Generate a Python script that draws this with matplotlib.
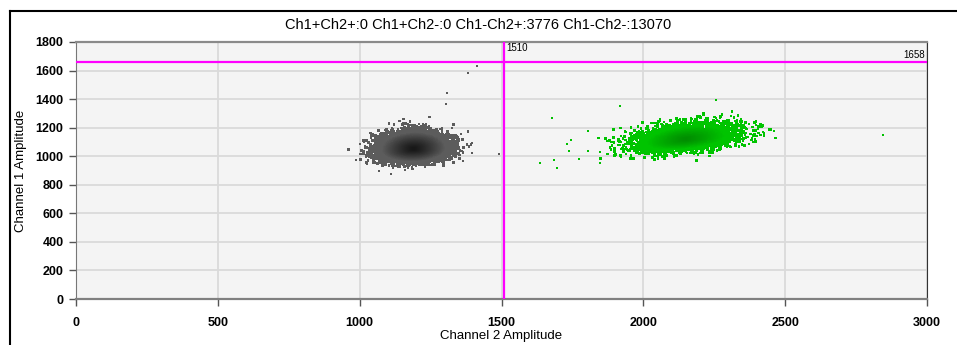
import numpy as np
import matplotlib.pyplot as plt
from matplotlib.lines import Line2D
from matplotlib.colors import to_rgb

plt.rcParams['font.family'] = ['Liberation Sans', 'DejaVu Sans']

# Droplet counts per quadrant (from the analysis summary)
quadrants = ['Ch1+Ch2+', 'Ch1+Ch2-', 'Ch1-Ch2+', 'Ch1-Ch2-']
counts = [0, 0, 3776, 13070]

# Thresholds
thr_ch2 = 1510
thr_ch1 = 1658

# Cluster shape estimates: centre (ch2, ch1), spread (ch2, ch1 below, ch1 above),
# slope of ch1 along ch2
neg_center = [1190, 1052]
neg_sd = [54, 40, 54]
neg_slope = 0.06
pos_center = [2150, 1120]
pos_sd = [90, 40, 54]
pos_slope = 0.2

# Stray droplets outside the main clouds
neg_out_ch2 = [1415, 1381, 1307, 1304, 1491, 1397, 1397, 1110, 987, 1365, 1068]
neg_out_ch1 = [1632, 1585, 1440, 1363, 1013, 1095, 1025, 877, 973, 968, 896]
pos_out_ch2 = [1677, 1918, 2256, 2846, 1636, 1686, 1697, 1730, 1737, 1773, 1806, 1805, 1849, 1849]
pos_out_ch1 = [1265, 1351, 1393, 1148, 950, 973, 915, 1085, 1038, 978, 1174, 1038, 950, 1030]

rng = np.random.default_rng(7)


def cloud(n, center, sd, slope):
    z = rng.standard_normal((n, 2))
    x = center[0] + sd[0] * z[:, 0]
    dy = np.where(z[:, 1] > 0, sd[2], sd[1]) * z[:, 1]
    y = center[1] + dy + slope * (x - center[0])
    r = np.hypot(z[:, 0], z[:, 1])
    return x, y, r


def shade(r, dark, light, r_max):
    t = np.clip(r / r_max, 0, 1)[:, None] ** 1.2
    return (1 - t) * np.array(to_rgb(dark)) + t * np.array(to_rgb(light))


n_neg = counts[3] - len(neg_out_ch2)
n_pos = counts[2] - len(pos_out_ch2)
nx, ny, nr = cloud(n_neg, neg_center, neg_sd, neg_slope)
px, py, pr = cloud(n_pos, pos_center, pos_sd, pos_slope)

fig = plt.figure(figsize=(9.57, 3.45), dpi=100)
ax = fig.add_axes([76 / 957, 46 / 345, 851 / 957, 257 / 345])
ax.set_facecolor('#f4f4f4')

ms = 3.4
# draw lighter edge droplets first so the dense core stays dark
o = np.argsort(-nr)
ax.scatter(nx[o], ny[o], s=ms, marker='s', linewidths=0,
           c=shade(nr[o], '#181818', '#5c5c5c', 2.0), zorder=3)
ax.scatter(neg_out_ch2, neg_out_ch1, s=ms, marker='s', linewidths=0, c='#5a5a5a', zorder=3)
o = np.argsort(-pr)
ax.scatter(px[o], py[o], s=ms, marker='s', linewidths=0,
           c=shade(pr[o], '#008e00', '#00c400', 1.5), zorder=3)
ax.scatter(pos_out_ch2, pos_out_ch1, s=ms, marker='s', linewidths=0, c='#00c000', zorder=3)

# threshold lines
ax.axvline(thr_ch2, color='#ff00ff', lw=1.6, zorder=4)
ax.axhline(thr_ch1, color='#ff00ff', lw=1.6, zorder=4)
ax.text(thr_ch2 + 8, 1790, str(thr_ch2), fontsize=7, va='top', ha='left', zorder=5)
ax.text(2992, thr_ch1 + 14, str(thr_ch1), fontsize=7, va='bottom', ha='right', zorder=5)

ax.set_xlim(0, 3000)
ax.set_ylim(0, 1800)
ax.set_xticks(np.arange(0, 3001, 500))
ax.set_yticks(np.arange(0, 1801, 200))
ax.grid(True, color='#dadada', lw=1.3, zorder=0)
ax.set_axisbelow(True)
ax.tick_params(direction='out', length=5, width=1, color='#555555', labelsize=9)
ax.tick_params(axis='y', pad=4)
ax.tick_params(axis='x', pad=8)
for lab in ax.get_xticklabels() + ax.get_yticklabels():
    lab.set_fontweight('bold')

ax.spines['left'].set_color('#777777')
ax.spines['bottom'].set_color('#808080')
ax.spines['bottom'].set_linewidth(1.6)
ax.spines['top'].set_color('#8a8a8a')
ax.spines['top'].set_linewidth(1.6)
ax.spines['right'].set_color('#333333')

ax.set_xlabel('Channel 2 Amplitude', fontsize=9.5, labelpad=1)
ax.set_ylabel('Channel 1 Amplitude', fontsize=9.5, labelpad=6)

title = ' '.join(f'{q}:{c}' for q, c in zip(quadrants, counts))
fig.text(0.5, 1 - 25 / 345, title, ha='center', va='center', fontsize=10.5)

# outer panel frame
fig.add_artist(Line2D([10 / 957, 10 / 957], [0, 1 - 11 / 345], color='black', lw=1.5))
fig.add_artist(Line2D([10 / 957, 1], [1 - 11 / 345, 1 - 11 / 345], color='black', lw=1.5))

fig.savefig('out.png', dpi=100)
